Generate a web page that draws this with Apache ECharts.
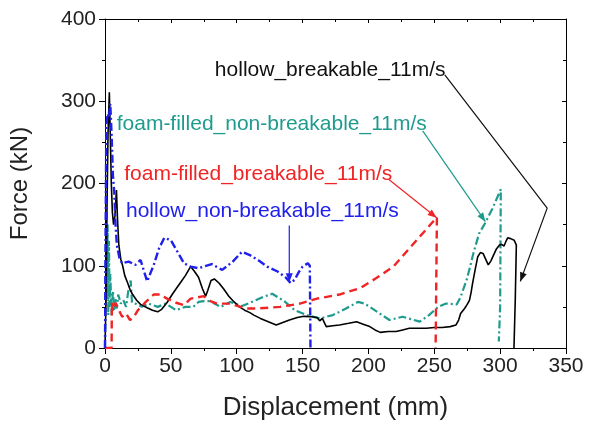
<!DOCTYPE html>
<html><head><meta charset="utf-8">
<script src="https://cdn.jsdelivr.net/npm/echarts@6/dist/echarts.min.js"></script>
<style>html,body{margin:0;padding:0;background:#fff}#c{width:602px;height:426px}</style>
</head><body><div id="c"></div>
<script>
// ---- data (Displacement mm, Force kN) ----
const hollowBreakable = [[0,0],[0.8,60],[1.5,170],[2.3,260],[3.3,311],[4,260],[4.8,200],[5.6,165],[6.5,150],[7.5,160],[8.7,192],[9.4,160],[10.5,125],[12,108],[13.4,100],[15,88],[17,80],[19,71],[21,65],[24,58],[27,53],[32,49],[36,46],[40,44],[43,47],[47,55],[51,65],[54,72],[57.5,80],[61,88],[65,99],[68,93],[71,86],[74,72],[76.4,63],[78,70],[80.5,82],[83,84],[86.5,79],[90,72],[94,63],[98,56],[102,50],[106,46],[110,43],[113,40],[118,36],[124,32],[130,28],[135,31],[140,34],[146,37],[151,38.5],[157,38],[161,37],[163,33],[165,36],[168,26],[173,27],[178,28],[185,30],[191,32],[196,29],[201,26],[205,22],[209,19],[215,20],[221,20],[226,22],[231,24],[238,24],[244,24],[250,25],[256,25],[262,26],[266.5,28],[268.5,34],[270,42],[273,48],[275,53],[276.7,58],[278,68],[279,78],[281,95],[283,111],[285,116],[287,115],[289,108],[291,101],[293,106],[295.6,115],[297,120],[299.4,125],[301,126],[303,124],[304.5,130],[305.7,134],[308,133],[310.7,131],[312.3,125],[311.5,60],[310.5,0]];
const foamNonBreakable = [[0,0],[0.5,100],[1,170],[1.5,60],[2,150],[2.5,40],[3,130],[3.5,50],[4,90],[5,40],[6,70],[7,45],[8,60],[9,48],[10,65],[12,54],[14,58],[16,50],[18,73],[19.5,82],[20.5,55],[23,54],[28,50],[33,54],[40,50],[46,54],[54,46],[61,50],[67,50],[71,56],[75,57],[81,57],[83,54],[88,50],[95,56],[104,51],[113,57],[120,62],[127,66],[136,57],[144,46],[153,40],[163,36],[173,40],[183,48],[192,56],[197,54],[201,50],[216,34],[226,38],[239,32],[246,40],[253,50],[259,54],[267,53],[270,62],[275,85],[280,117],[284,139],[289,153],[294,169],[300.5,193],[300,50],[299,8]];
const foamBreakable = [[0,0],[5,0],[5.2,55],[6,45],[8,55],[10,48],[13,38],[16,42],[19,34],[22,38],[25,46],[31,56],[37,65],[43,65],[46,61],[54,55],[60,52],[65,60],[75,63],[80,57],[85,54],[95,54],[103,50],[108,48],[115,48],[133,50],[148,54],[161,60],[178,65],[194,73],[206,85],[219,99],[231,121],[241,139],[252,159],[251,0]];
const hollowNonBreakable = [[0,0],[0.5,150],[1,270],[2,285],[3,280],[4,297],[5,260],[6,210],[7,190],[8,150],[9,125],[11,109],[13,103],[18,105],[23,101],[27,107],[32,81],[37,101],[41,121],[45,134],[50,131],[55,117],[60,103],[65,99],[71,97],[81,102],[89,95],[97,105],[104,117],[110,113],[117,106],[123,99],[131,93],[137,86],[141,79],[144,83],[147,92],[150,99],[154,103],[155.5,100],[156,0]];
const seriesNames = ['hollow_breakable_11m/s','foam-filled_non-breakable_11m/s','foam-filled_breakable_11m/s','hollow_non-breakable_11m/s'];
const xTitle = 'Displacement (mm)';
const yTitle = 'Force (kN)';
// annotation anchors in data coords: label centre, then arrow path (last point = tip)
const annHB = {label:[171,338], path:[[258,332],[335.7,170],[315.3,81]]};
const annFNB = {label:[126.6,272.6], path:[[241.2,264],[288.8,153.6]]};
const annFB = {label:[116.4,210.7], path:[[215.5,204.8],[251.8,158.3]]};
const annHNB = {label:[119.5,166.7], path:[[139.9,148.8],[139.9,79.8]]};

const C_BLACK='#000000', C_TEAL='#1f9b8d', C_RED='#f02424', C_BLUE='#2020ee';
const FONT='"Liberation Sans", Arial, sans-serif';

const chart = echarts.init(document.getElementById('c'), null, {renderer:'canvas'});
const axLine = {show:true, onZero:false, lineStyle:{color:'#000', width:1}};
const option = {
  animation:false,
  backgroundColor:'#fff',
  grid:{left:104, right:36, top:19, bottom:71},
  xAxis:[
    {type:'value', min:0, max:350, interval:50, position:'bottom', axisLine:axLine,
     axisTick:{show:true, inside:false, length:6, lineStyle:{color:'#000'}},
     minorTick:{show:true, splitNumber:2, length:3, lineStyle:{color:'#000'}},
     splitLine:{show:false}, minorSplitLine:{show:false},
     axisLabel:{fontSize:21, color:'#222', margin:8, fontFamily:FONT},
     name:xTitle, nameLocation:'middle', nameGap:47, nameTextStyle:{fontSize:26, color:'#222', fontFamily:FONT}},
    {type:'value', min:0, max:350, interval:50, position:'top', axisLine:axLine,
     axisTick:{show:true, inside:true, length:4, lineStyle:{color:'#000'}},
     minorTick:{show:true, splitNumber:2, length:3, lineStyle:{color:'#000'}},
     splitLine:{show:false}, axisLabel:{show:false}}
  ],
  yAxis:[
    {type:'value', min:0, max:400, interval:100, position:'left', axisLine:axLine,
     axisTick:{show:true, inside:false, length:6, lineStyle:{color:'#000'}},
     minorTick:{show:true, splitNumber:2, length:3, lineStyle:{color:'#000'}},
     splitLine:{show:false}, minorSplitLine:{show:false},
     axisLabel:{fontSize:21, color:'#222', margin:9, fontFamily:FONT},
     name:yTitle, nameLocation:'middle', nameGap:73, nameTextStyle:{fontSize:24, color:'#222', fontFamily:FONT}},
    {type:'value', min:0, max:400, interval:100, position:'right', axisLine:axLine,
     axisTick:{show:true, inside:true, length:4, lineStyle:{color:'#000'}},
     minorTick:{show:true, splitNumber:2, length:3, lineStyle:{color:'#000'}},
     splitLine:{show:false}, axisLabel:{show:false}}
  ],
  series:[
    {name:seriesNames[1], type:'line', data:foamNonBreakable, showSymbol:false, symbol:'none',
     lineStyle:{color:C_TEAL, width:2.2, type:[8,3,2,3]}, z:2},
    {name:seriesNames[0], type:'line', data:hollowBreakable, showSymbol:false, symbol:'none',
     lineStyle:{color:C_BLACK, width:1.6, type:'solid'}, z:3},
    {name:seriesNames[2], type:'line', data:foamBreakable, showSymbol:false, symbol:'none',
     lineStyle:{color:C_RED, width:2.4, type:[8,5]}, z:4},
    {name:seriesNames[3], type:'line', data:hollowNonBreakable, showSymbol:false, symbol:'none',
     lineStyle:{color:C_BLUE, width:2.4, type:[8,3,2,3]}, z:5}
  ]
};
chart.setOption(option);

function px(p){ return chart.convertToPixel({gridIndex:0}, p); }
function annotation(ann, text, color){
  const els = [];
  const c = px(ann.label);
  els.push({type:'text', x:c[0], y:c[1], z:100,
    style:{text:text, fill:color, font:'21px '+FONT, align:'center', verticalAlign:'middle', textAlign:'center', textVerticalAlign:'middle'}});
  const pts = ann.path.map(px);
  els.push({type:'polyline', z:100, shape:{points:pts}, style:{stroke:color, lineWidth:1.2, fill:null}});
  const a = pts[pts.length-2], b = pts[pts.length-1];
  const dx=b[0]-a[0], dy=b[1]-a[1], L=Math.hypot(dx,dy), ux=dx/L, uy=dy/L;
  const len=9, hw=3.5;
  const base=[b[0]-ux*len, b[1]-uy*len];
  els.push({type:'polygon', z:100, shape:{points:[b,[base[0]-uy*hw, base[1]+ux*hw],[base[0]+uy*hw, base[1]-ux*hw]]}, style:{fill:color}});
  return els;
}
const g = [].concat(
  annotation(annHB, seriesNames[0], '#111'),
  annotation(annFNB, seriesNames[1], C_TEAL),
  annotation(annFB, seriesNames[2], C_RED),
  annotation(annHNB, seriesNames[3], C_BLUE)
);
chart.setOption({graphic:{elements:g}});
</script></body></html>
